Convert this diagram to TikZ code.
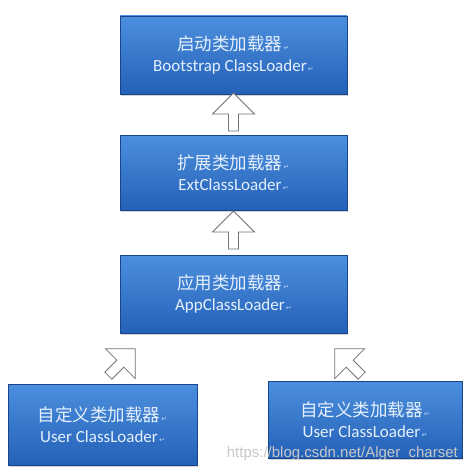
\documentclass[tikz,border=0pt]{standalone}
\usepackage{fontspec}
\setmainfont{Carlito}
\newfontfamily\cjk{Noto Sans CJK SC}
\newfontfamily\pmarkfont{DejaVu Sans}
\newfontfamily\wmfont{Liberation Sans}
\usepackage{tikz}
\usetikzlibrary{
  arrows.meta,
  positioning,
  shapes.arrows,
  shadows,
  calc
}
\usepackage{xcolor}
\definecolor{boxTop}{rgb}{0.30,0.56,0.87}
\definecolor{boxBottom}{rgb}{0.14,0.38,0.72}
\definecolor{boxEdge}{rgb}{0.10,0.27,0.55}
\definecolor{textLight}{rgb}{0.90,0.94,0.99}
\definecolor{arrowGray}{rgb}{0.45,0.45,0.47}
\tikzset{
  loaderbox/.style={
    top color=boxTop,
    bottom color=boxBottom,
    draw=boxEdge,
    line width=0.8pt,
    drop shadow={shadow xshift=1pt,shadow yshift=-2pt,opacity=0.35},
    align=center,
    text=textLight,
    inner sep=0pt
  }
}
\newcommand{\pmark}{{\pmarkfont\fontsize{7}{7}\selectfont\color{white!60!boxTop}\,↵}}
\newcommand{\loadertext}[2]{%
  {\cjk\fontsize{17.5}{17.5}\selectfont #1}\pmark\\[7pt]
  {\fontsize{17}{17}\selectfont #2}\pmark}

\begin{document}
\begin{tikzpicture}[
      x=1pt, y=-1pt,
      hollowarrow/.style={
        single arrow,
        draw=arrowGray,
        fill=white,
        line width=0.8pt,
        minimum width=42pt,
        minimum height=38pt,
        single arrow head extend=11pt,
        single arrow tip angle=90,
        inner sep=3pt,
        anchor=center
      }
      ]
      \useasboundingbox (0,0) rectangle (470,468);

      \node[loaderbox, minimum width=227pt, minimum height=78pt]
        (boot) at (233.5,55) {\loadertext{启动类加载器}{Bootstrap ClassLoader}};
      \node[loaderbox, minimum width=227pt, minimum height=75pt]
        (ext) at (233.5,172.5) {\loadertext{扩展类加载器}{ExtClassLoader}};
      \node[loaderbox, minimum width=227pt, minimum height=78pt]
        (app) at (233.5,294) {\loadertext{应用类加载器}{AppClassLoader}};
      \node[loaderbox, minimum width=189pt, minimum height=81pt]
        (user1) at (102.5,424.5) {\loadertext{自定义类加载器}{User ClassLoader}};
      \node[loaderbox, minimum width=194pt, minimum height=77pt]
        (user2) at (365,419.5) {\loadertext{自定义类加载器}{User ClassLoader}};

      % hollow arrows between loaders
      \node[hollowarrow, rotate=90] (upExt) at ($(boot.south)!0.5!(ext.north)$) {};
      \node[hollowarrow, rotate=90] (upApp) at ($(ext.south)!0.5!(app.north)$) {};
      \node[hollowarrow, rotate=45] (upUser1) at (120,364) {};
      \node[hollowarrow, rotate=135] (upUser2) at (350,364) {};

      \node[text=black!22, anchor=base east, inner sep=0pt] (wm) at (458,457)
        {\wmfont\fontsize{15}{15}\selectfont https://blog.csdn.net/Alger\_charset};
    \end{tikzpicture}
\end{document}
